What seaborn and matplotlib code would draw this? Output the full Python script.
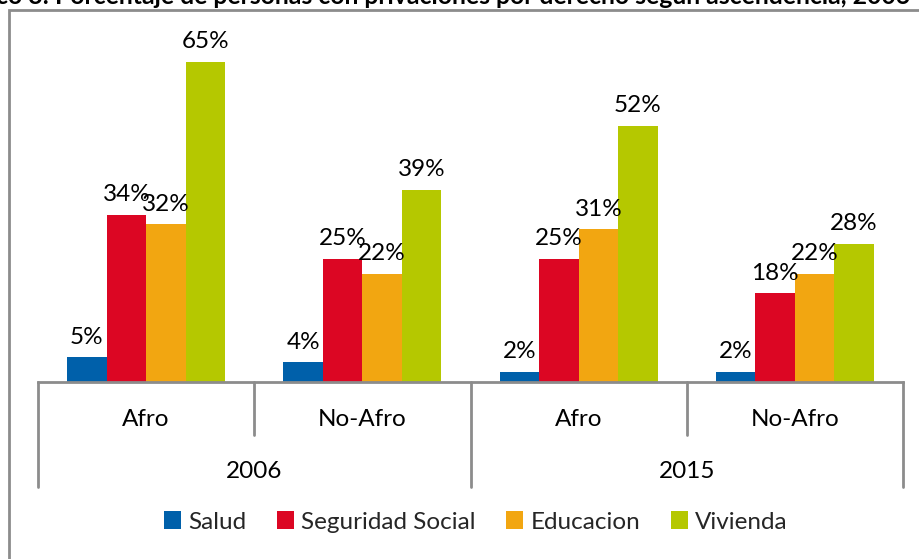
import matplotlib
matplotlib.use("Agg")
import matplotlib.pyplot as plt
import seaborn as sns
import pandas as pd
from matplotlib.patches import Rectangle

# ---- data ----
grupos = ["Afro 2006", "No-Afro 2006", "Afro 2015", "No-Afro 2015"]
etiquetas_grupo = ["Afro", "No-Afro", "Afro", "No-Afro"]
anios = ["2006", "2015"]
series = ["Salud", "Seguridad Social", "Educacion", "Vivienda"]
salud = [5, 4, 2, 2]
seguridad = [34, 25, 25, 18]
educacion = [32, 22, 31, 22]
vivienda = [65, 39, 52, 28]
colores = ["#0060AA", "#DC0623", "#F2A611", "#B5C800"]
titulo = "co 3: Porcentaje de personas con privaciones por derecho según ascendencia, 2006-2015"

valores = {"Salud": salud, "Seguridad Social": seguridad,
           "Educacion": educacion, "Vivienda": vivienda}
rows = []
for s in series:
    for g, v in zip(grupos, valores[s]):
        rows.append({"grupo": g, "serie": s, "valor": v})
df = pd.DataFrame(rows)

sns.set_theme(style="white")
plt.rcParams["font.family"] = ["Lato", "DejaVu Sans"]

W, H = 919, 559
FS = 17.5
fig = plt.figure(figsize=(W / 100, H / 100), dpi=100)

def fx(px):
    return px / W

def fy(py):
    return 1 - py / H

# outer frame
fig.patches.append(Rectangle((fx(9), fy(600)), fx(1000), fy(10) - fy(600),
                             transform=fig.transFigure, fill=False,
                             edgecolor="#8c8c8c", linewidth=2))

# title (clipped at top as in the reference)
fig.text(fx(-4), fy(4), titulo, ha="left", va="baseline", fontsize=17.8,
         fontweight="bold", color="black")

base_px = 382
top_px = 37.4
ax = fig.add_axes([fx(38), fy(base_px), fx(903) - fx(38), (base_px - top_px) / H])
sns.barplot(data=df, x="grupo", y="valor", hue="serie", order=grupos,
            hue_order=series, palette=colores, saturation=1, width=0.73,
            ax=ax, legend=False, edgecolor="none")
ax.set_xlim(-0.5, 3.5)
ax.set_ylim(0, 70)
ax.set_xlabel("")
ax.set_ylabel("")
ax.set_xticks([])
ax.set_yticks([])
for sp in ["top", "right", "left"]:
    ax.spines[sp].set_visible(False)
ax.spines["bottom"].set_color("#8c8c8c")
ax.spines["bottom"].set_linewidth(2)
ax.patch.set_alpha(0)

for cont, s in zip(ax.containers, series):
    ax.bar_label(cont, labels=[f"{v}%" for v in valores[s]], padding=7,
                 fontsize=FS, color="black")

# category axis separators
trans = ax.get_xaxis_transform()
def yax(py):
    return (base_px - py) / (base_px - top_px)

for xs, ybot in [(-0.5, 487), (0.5, 435), (1.5, 487), (2.5, 435), (3.5, 487)]:
    ax.plot([xs, xs], [0, yax(ybot)], transform=trans, color="#8c8c8c",
            linewidth=2, clip_on=False)

for i, lab in enumerate(etiquetas_grupo):
    ax.text(i, yax(419), lab, transform=trans, ha="center", va="center",
            fontsize=FS, color="black")
for i, a in enumerate(anios):
    ax.text(0.5 + 2 * i, yax(471), a, transform=trans, ha="center",
            va="center", fontsize=FS, color="black")

# legend
handles = [Rectangle((0, 0), 1, 1, facecolor=c, edgecolor="none") for c in colores]
fig.legend(handles, series, loc="center", bbox_to_anchor=(fx(476), fy(522)),
           ncol=4, frameon=False, fontsize=FS, handlelength=0.7,
           handleheight=0.7, handletextpad=0.3, columnspacing=1.25)

fig.savefig("out.png", dpi=100)
